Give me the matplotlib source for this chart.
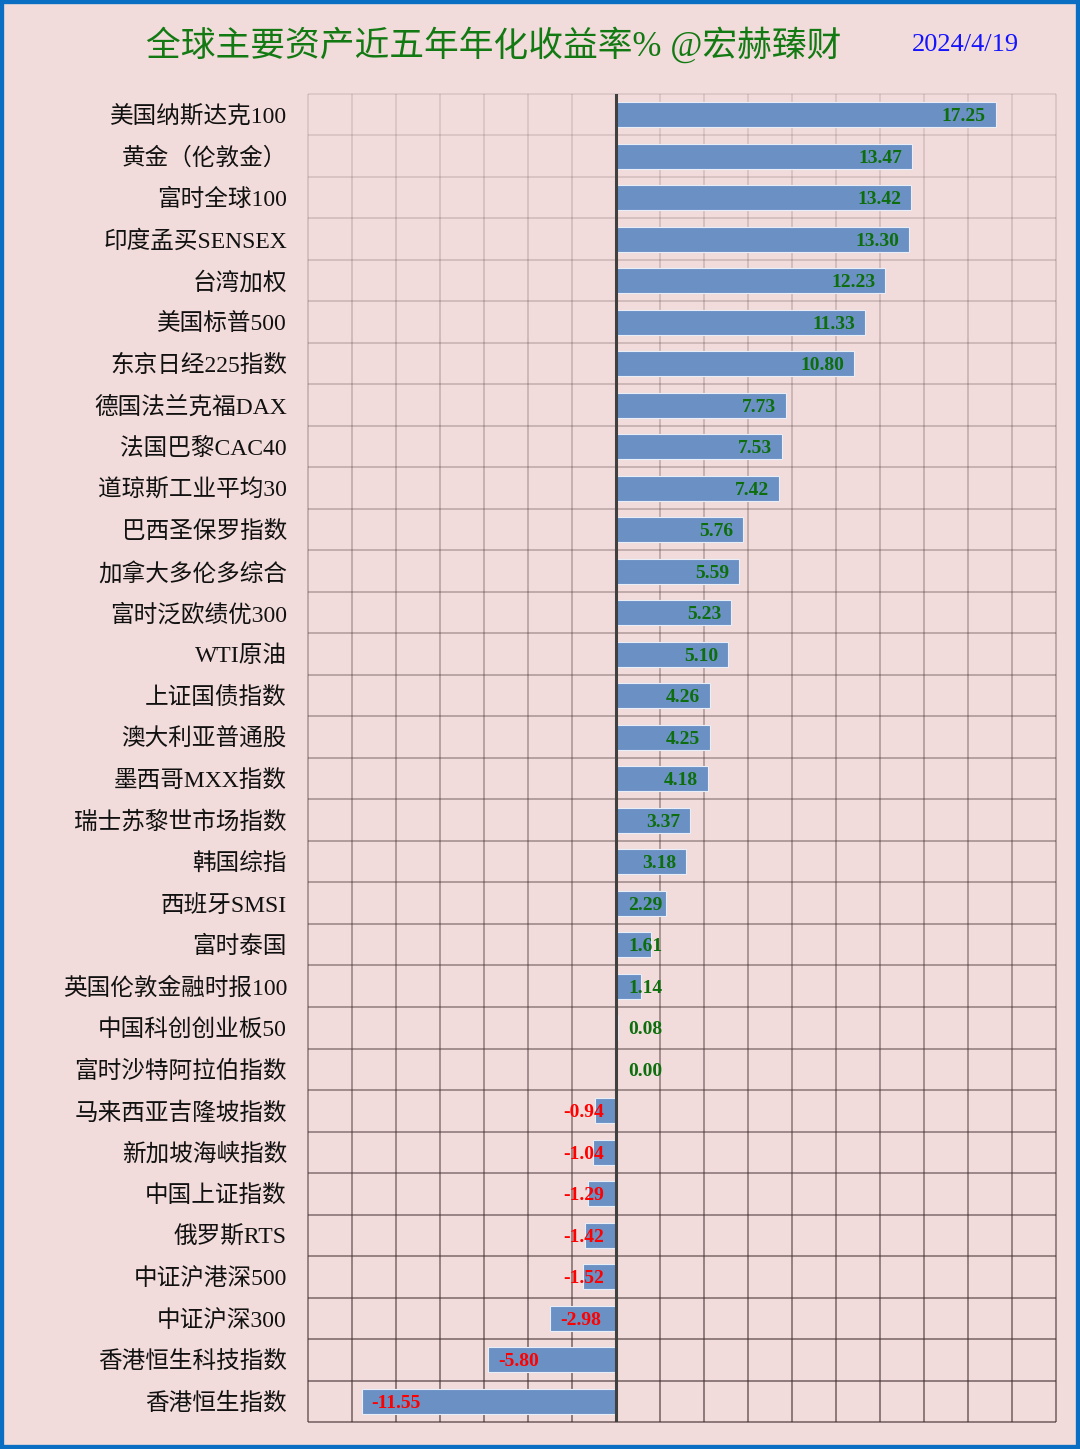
import matplotlib
matplotlib.use("Agg")
import matplotlib.pyplot as plt
import numpy as np
from matplotlib.collections import LineCollection
from matplotlib.patches import Rectangle

# Data
names = ["美国纳斯达克100", "黄金（伦敦金）", "富时全球100", "印度孟买SENSEX", "台湾加权",
         "美国标普500", "东京日经225指数", "德国法兰克福DAX", "法国巴黎CAC40", "道琼斯工业平均30",
         "巴西圣保罗指数", "加拿大多伦多综合", "富时泛欧绩优300", "WTI原油", "上证国债指数",
         "澳大利亚普通股", "墨西哥MXX指数", "瑞士苏黎世市场指数", "韩国综指", "西班牙SMSI",
         "富时泰国", "英国伦敦金融时报100", "中国科创创业板50", "富时沙特阿拉伯指数", "马来西亚吉隆坡指数",
         "新加坡海峡指数", "中国上证指数", "俄罗斯RTS", "中证沪港深500", "中证沪深300",
         "香港恒生科技指数", "香港恒生指数"]
values = [17.25, 13.47, 13.42, 13.30, 12.23, 11.33, 10.80, 7.73, 7.53, 7.42,
          5.76, 5.59, 5.23, 5.10, 4.26, 4.25, 4.18, 3.37, 3.18, 2.29,
          1.61, 1.14, 0.08, 0.00, -0.94, -1.04, -1.29, -1.42, -1.52, -2.98,
          -5.80, -11.55]
title = "全球主要资产近五年年化收益率% @宏赫臻财"
date = "2024/4/19"

fonts = ["Liberation Serif", "Noto Sans CJK SC", "DejaVu Sans"]
plt.rcParams["font.family"] = fonts

bg = "#f2dcdb"
fig = plt.figure(figsize=(10.8, 14.49), dpi=100, facecolor=bg)
ax = fig.add_axes([0.285, 0.0186, 0.693, 0.9166])
ax.set_facecolor(bg)

n = len(names)
y = np.arange(n)
xmin, xmax = -14, 20

# grid, getting darker toward the bottom
def grid_col(yy):
    a = 0.12 + 0.5 * (yy + 0.5) / n
    return (0.25, 0.18, 0.18, a)

hsegs, hcols = [], []
for i in range(n + 1):
    yy = i - 0.5
    hsegs.append([(xmin, yy), (xmax, yy)])
    hcols.append(grid_col(yy))
vsegs, vcols = [], []
for xv in np.arange(xmin, xmax + 1, 2):
    for i in range(n):
        vsegs.append([(xv, i - 0.5), (xv, i + 0.5)])
        vcols.append(grid_col(i))
ax.add_collection(LineCollection(hsegs, colors=hcols, linewidths=1.3, clip_on=False, zorder=1))
ax.add_collection(LineCollection(vsegs, colors=vcols, linewidths=1.3, clip_on=False, zorder=1))

ax.barh(y, values, height=0.6, color="#6a90c4", edgecolor="#e8eef8", linewidth=0.8, zorder=2)
ax.axvline(0, color="#404040", linewidth=2.2, zorder=3)

# value labels
for yi, v in zip(y, values):
    if v >= 0:
        ax.text(max(v - 0.45, 2.1), yi, f"{v:.2f}", ha="right", va="center_baseline",
                color="#0e6e0e", fontsize=14, fontweight="bold", zorder=4)
    else:
        ax.text(min(v + 0.45, -2.4), yi, f"{v:.2f}", ha="left", va="center_baseline",
                color="#ff0000", fontsize=14, fontweight="bold", zorder=4)

ax.set_xlim(xmin, xmax)
ax.set_ylim(n - 0.5, -0.5)
ax.set_xticks([])
ax.set_yticks(y)
ax.set_yticklabels(names, fontsize=17, color="#111111")
ax.tick_params(axis="y", length=0, pad=15)
for s in ax.spines.values():
    s.set_visible(False)

fig.text(0.457, 0.969, title, ha="center", va="center", fontsize=25, color="#137a13")
fig.text(0.894, 0.969, date, ha="center", va="center", fontsize=19, color="#1414ff")

fig.patches.append(Rectangle((0, 0), 1, 1, transform=fig.transFigure, fill=False,
                             edgecolor="#0a6fc2", linewidth=6))

fig.savefig("out.png", dpi=100, facecolor=bg)
